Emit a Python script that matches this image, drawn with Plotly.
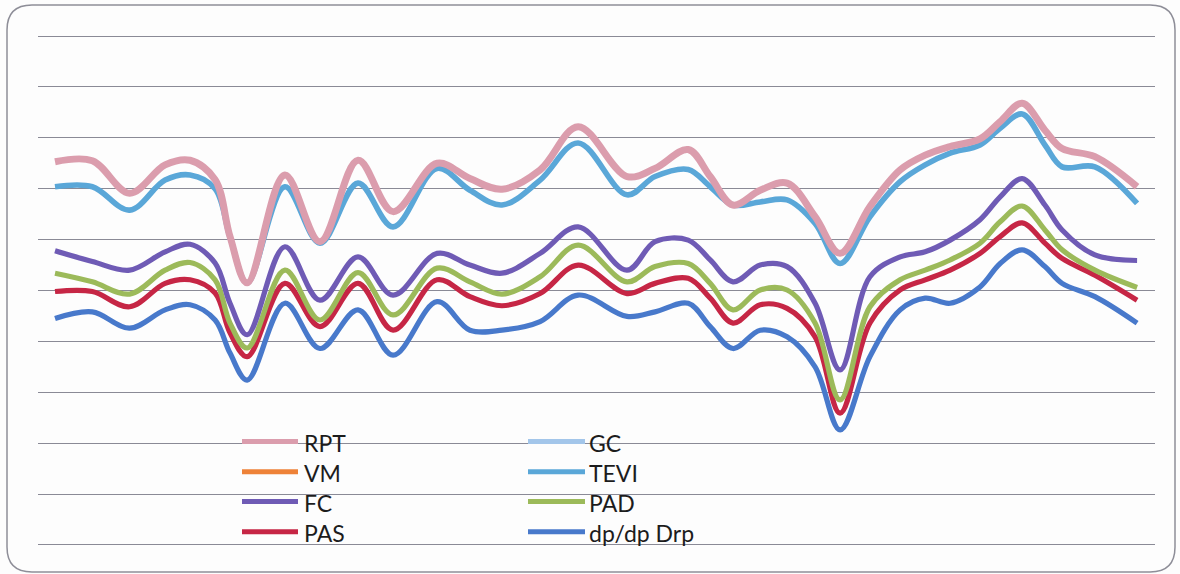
import plotly.graph_objects as go

# Sample positions along the horizontal axis (shared by every series)
t = [0.0, 1.0, 2.0, 2.95, 3.62, 4.29, 4.69, 5.15, 6.16, 7.10, 8.12, 9.06,
     10.24, 11.12, 11.98, 13.0, 14.02, 15.33, 16.08, 16.97, 17.56, 18.17,
     18.90, 19.62, 20.37, 21.04, 21.84, 22.65, 23.32, 23.99, 24.79, 25.33,
     25.92, 26.53, 26.99, 27.87, 29.0]

rpt = [7.53, 7.55, 6.91, 7.47, 7.56, 7.18, 6.06, 5.15, 7.27, 5.96, 7.56, 6.55,
       7.50, 7.20, 6.99, 7.37, 8.22, 7.24, 7.40, 7.77, 7.24, 6.68, 6.97, 7.11,
       6.45, 5.73, 6.65, 7.37, 7.66, 7.83, 7.98, 8.32, 8.68, 8.15, 7.79, 7.63, 7.04]
tevi = [7.04, 7.04, 6.58, 7.17, 7.27, 7.00, 6.05, 5.15, 7.04, 5.93, 7.11, 6.25,
        7.40, 6.97, 6.68, 7.17, 7.90, 6.88, 7.24, 7.38, 7.04, 6.68, 6.74, 6.78,
        6.32, 5.53, 6.45, 7.14, 7.47, 7.70, 7.86, 8.19, 8.47, 7.86, 7.43, 7.43, 6.71]
fc = [5.78, 5.57, 5.40, 5.76, 5.91, 5.54, 4.75, 4.13, 5.86, 4.81, 5.66, 4.91,
      5.73, 5.50, 5.34, 5.73, 6.25, 5.40, 5.96, 5.99, 5.60, 5.17, 5.50, 5.47,
      4.75, 3.44, 5.27, 5.66, 5.76, 5.99, 6.39, 6.84, 7.20, 6.68, 6.19, 5.70, 5.59]
pad = [5.34, 5.17, 4.93, 5.40, 5.55, 5.21, 4.36, 3.87, 5.40, 4.42, 5.35, 4.52,
       5.44, 5.17, 4.93, 5.27, 5.89, 5.17, 5.47, 5.53, 5.14, 4.62, 5.01, 5.01,
       4.36, 2.85, 4.68, 5.21, 5.40, 5.60, 5.93, 6.35, 6.66, 6.19, 5.80, 5.40, 5.06]
pas = [4.98, 4.98, 4.68, 5.14, 5.21, 4.95, 4.17, 3.70, 5.14, 4.29, 5.14, 4.22,
       5.21, 4.88, 4.70, 4.94, 5.50, 4.94, 5.14, 5.24, 4.85, 4.36, 4.72, 4.65,
       4.09, 2.59, 4.36, 5.01, 5.21, 5.40, 5.73, 6.06, 6.33, 5.93, 5.63, 5.30, 4.81]
dpdp = [4.45, 4.58, 4.26, 4.62, 4.72, 4.42, 3.77, 3.24, 4.75, 3.86, 4.62, 3.73,
        4.78, 4.22, 4.22, 4.39, 4.91, 4.49, 4.58, 4.75, 4.29, 3.86, 4.22, 4.09,
        3.50, 2.26, 3.70, 4.62, 4.85, 4.75, 5.07, 5.53, 5.80, 5.47, 5.14, 4.88, 4.36]

# Legend entries, in column order
legend_names = ["RPT", "VM", "FC", "PAS", "GC", "TEVI", "PAD", "dp/dp Drp"]
legend_colors = ["#DB9DAD", "#EE8238", "#6F5BB5", "#C62645",
                 "#A3C6EA", "#5AA7D8", "#9CBA5A", "#4879CB"]
color = dict(zip(legend_names, legend_colors))

# Drawing order: lower curves first, RPT on top
series = [
    ("dp/dp Drp", dpdp, 5.2),
    ("PAS", pas, 5.2),
    ("PAD", pad, 5.2),
    ("FC", fc, 5.2),
    ("TEVI", tevi, 5.6),
    ("RPT", rpt, 7),
]

fig = go.Figure()
for name, vals, w in series:
    fig.add_trace(go.Scatter(
        x=t, y=vals, name=name, mode="lines",
        line=dict(color=color[name], width=w, shape="spline", smoothing=1.0),
        showlegend=False, hoverinfo="skip",
    ))

W, H = 1180, 574
ML, MR, MT, MB = 38, 25, 31, 24
PW, PH = W - ML - MR, H - MT - MB


def px_x(p):
    return (p - ML) / PW


def px_y(p):
    return (H - MB - p) / PH


shapes = []

# Rounded frame around the chart
x1, x2, yt, yb, r = 7, 1175, 5, 572, 25
rx, ry = r / PW, r / PH
X1, X2, YT, YB = px_x(x1), px_x(x2), px_y(yt), px_y(yb)
path = (f"M {X1+rx},{YT} L {X2-rx},{YT} Q {X2},{YT} {X2},{YT-ry} "
        f"L {X2},{YB+ry} Q {X2},{YB} {X2-rx},{YB} "
        f"L {X1+rx},{YB} Q {X1},{YB} {X1},{YB+ry} "
        f"L {X1},{YT-ry} Q {X1},{YT} {X1+rx},{YT} Z")
shapes.append(dict(type="path", path=path, xref="paper", yref="paper",
                   line=dict(color="#8E8E98", width=1.5), layer="below"))

# Two-column legend with four entries per column
annotations = []
rows = [441.5, 471.7, 501.5, 531.7]
cols = [(242, 298, 302), (528, 585, 587)]
for i, name in enumerate(legend_names):
    c = cols[i // 4]
    ry_px = rows[i % 4]
    shapes.append(dict(type="line", xref="paper", yref="paper",
                       x0=px_x(c[0]), x1=px_x(c[1]), y0=px_y(ry_px), y1=px_y(ry_px),
                       line=dict(color=color[name], width=5)))
    annotations.append(dict(text=name, xref="paper", yref="paper",
                            x=px_x(c[2]), y=px_y(ry_px + 1.5),
                            xanchor="left", yanchor="middle", showarrow=False,
                            font=dict(family="Lato", size=23, color="#1c1c1c")))

fig.update_layout(
    width=W, height=H,
    margin=dict(l=ML, r=MR, t=MT, b=MB),
    paper_bgcolor="#FDFDFD", plot_bgcolor="#FDFDFD",
    xaxis=dict(range=[-0.456, 29.48], showgrid=False, zeroline=False,
               showticklabels=False, showline=False, ticks=""),
    yaxis=dict(range=[-0.1, 10.1], dtick=1, tick0=0, showgrid=True,
               gridcolor="#8A8A96", gridwidth=1.3, zeroline=False,
               showticklabels=False, showline=False, ticks=""),
    shapes=shapes, annotations=annotations,
)

fig.write_html("out.html")
